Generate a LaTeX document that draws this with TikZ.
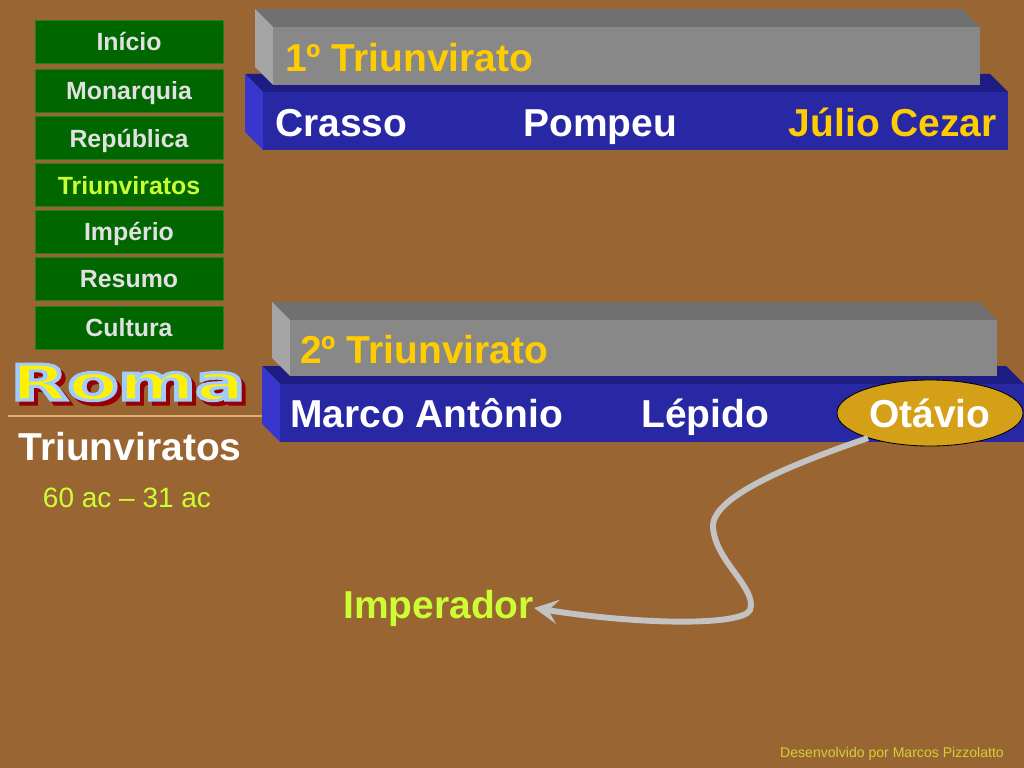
\documentclass[tikz,border=0pt]{standalone}
\usepackage{fontspec}
\setmainfont{Liberation Sans}
\newfontfamily\romafont{DejaVu Sans}
\usepackage{graphicx}
\usepackage{tikz}
\usetikzlibrary{arrows.meta, shapes.geometric, calc}
\definecolor{Fundo}{RGB}{153,102,51}
\definecolor{VerdeBotao}{RGB}{0,102,0}
\definecolor{CinzaTopo}{RGB}{112,112,112}
\definecolor{CinzaFrente}{RGB}{136,136,136}
\definecolor{CinzaLado}{RGB}{165,165,165}
\definecolor{AzulTopo}{RGB}{28,28,130}
\definecolor{AzulFrente}{RGB}{40,40,165}
\definecolor{AzulLado}{RGB}{55,55,205}
\definecolor{Ouro}{RGB}{255,204,0}
\definecolor{Lima}{RGB}{204,255,51}
\definecolor{Ocre}{RGB}{212,160,23}
\definecolor{CinzaTexto}{RGB}{225,225,225}
\definecolor{CinzaSeta}{RGB}{195,195,195}
\definecolor{Vinho}{RGB}{150,0,0}
\definecolor{Linha}{RGB}{225,170,110}
\definecolor{Rodape}{RGB}{210,210,51}

% bloco 3D: frente (x1,y1)-(x2,y2), topo, frente, lado
\newcommand{\caixa}[7]{%
	\fill[#5] (#1,#2) -- (#3,#2) -- (#3-18,#2-18) -- (#1-18,#2-18) -- cycle;
	\fill[#7] (#1,#2) -- (#1-18,#2-18) -- (#1-18,#4-18) -- (#1,#4) -- cycle;
	\fill[#6] (#1,#2) rectangle (#3,#4);
}
% letreiro: cor do contorno em RGB (0..1)
\newcommand{\palavraRoma}[1]{\scalebox{1.5}[1]{\fontsize{35}{38}\selectfont\romafont\bfseries
	\special{pdf:code q 2 Tr 2.2 w #1 RG}Roma\special{pdf:code Q}}}

\begin{document}
\begin{tikzpicture}[x=0.025cm, y=-0.025cm,
	grande/.style={font=\fontsize{27.7}{33}\selectfont\bfseries, inner sep=0pt, anchor=base west},
	botao/.style={rectangle, fill=VerdeBotao, draw=VerdeBotao!85!white, line width=0.6pt,
		minimum width=4.7cm, minimum height=1.075cm, inner sep=0pt,
		font=\fontsize{17.7}{20}\selectfont\bfseries, text height=15pt, text depth=1.6pt},
	seta/.style={line width=4.2pt, draw=CinzaSeta, -{Stealth[length=6mm, width=6mm, inset=2.4mm]}}]

	% ---------- fundo ----------
	\fill[Fundo] (0,0) rectangle (1024,768);
	\useasboundingbox (0,0) rectangle (1024,768);

	% ---------- menu ----------
	\foreach \n/\y/\t/\c in {inicio/41.5/Início/CinzaTexto, monarquia/90.5/Monarquia/CinzaTexto,
		republica/138/República/CinzaTexto, triunviratos/185/Triunviratos/Lima,
		imperio/231.5/Império/CinzaTexto, resumo/278.5/Resumo/CinzaTexto, cultura/327.5/Cultura/CinzaTexto}{
		\node[botao, text=\c] (\n) at (129,\y) {\t};
	}

	% ---------- titulo ----------
	\node[inner sep=0pt, anchor=base, text=Vinho] (sombra) at (132,404) {\palavraRoma{0.59 0 0}};
	\node[inner sep=0pt, anchor=base, text=yellow] (roma) at (128,400) {\palavraRoma{0.63 0.8 1}};
	\draw[Linha, line width=0.8pt] (8,416) -- (262,416);
	\node[font=\fontsize{27.7}{33}\selectfont\bfseries, text=white, inner sep=0pt, anchor=base] (sub) at (130,460) {Triunviratos};
	\node[font=\fontsize{19.9}{24}\selectfont, text=Lima, inner sep=0pt, anchor=base] (datas) at (127,507) {60 ac – 31 ac};

	% ---------- 1o triunvirato ----------
	\caixa{263}{92}{1008}{150}{AzulTopo}{AzulFrente}{AzulLado}
	\caixa{273}{27}{980}{85}{CinzaTopo}{CinzaFrente}{CinzaLado}
	\node[grande, text=Ouro] (t1) at (285,72) {1º Triunvirato};
	\node[grande, text=white] (crasso) at (275,137) {Crasso};
	\node[grande, text=white] (pompeu) at (523,137) {Pompeu};
	\node[grande, text=Ouro, anchor=base east] (julio) at (997,137) {Júlio Cezar};

	% ---------- 2o triunvirato ----------
	\caixa{280}{384}{1024}{442}{AzulTopo}{AzulFrente}{AzulLado}
	\caixa{290}{320}{997}{376}{CinzaTopo}{CinzaFrente}{CinzaLado}
	\node[grande, text=Ouro] (t2) at (300,363) {2º Triunvirato};
	\node[grande, text=white] (marco) at (290,427) {Marco Antônio};
	\node[grande, text=white] (lepido) at (641,427) {Lépido};
	\node[ellipse, fill=Ocre, draw=black, line width=0.6pt, minimum width=4.65cm, minimum height=1.65cm,
		inner sep=0pt, text=white, font=\fontsize{27.7}{33}\selectfont\bfseries] (otavio) at (930,413) {Otávio};

	% ---------- imperador ----------
	\node[grande, text=Lima] (imperador) at (343,618) {Imperador};
	\draw[seta] (otavio.202) .. controls (795,463) and (715,495) .. (713,525)
		.. controls (713,560) and (758,588) .. (750,610)
		.. controls (742,626) and (640,625) .. (imperador.east);

	\node[font=\fontsize{10}{12}\selectfont, text=Rodape, inner sep=0pt, anchor=base] (autor) at (892,757) {Desenvolvido por Marcos Pizzolatto};
\end{tikzpicture}
\end{document}
